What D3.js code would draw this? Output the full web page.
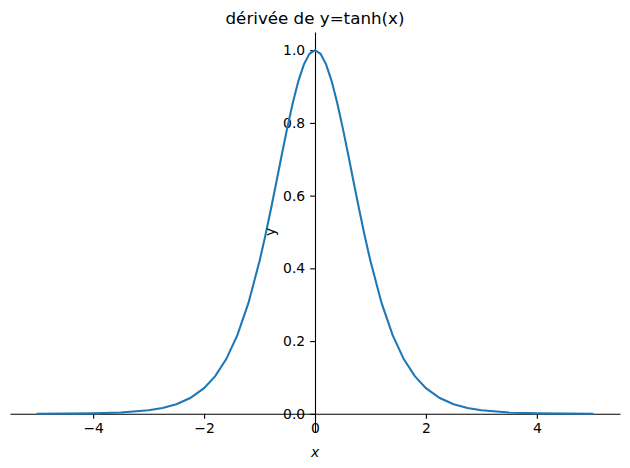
<!DOCTYPE html>
<html>
<head>
<meta charset="utf-8">
<script src="https://cdn.jsdelivr.net/npm/d3@7"></script>
<style>
  body { margin: 0; background: #fff; }
  svg { font-family: "DejaVu Sans", sans-serif; }
  .axis text { font-size: 13.9px; fill: #000; }
  .axis path, .axis line { stroke: #000; stroke-width: 1.1; }
</style>
</head>
<body>
<svg id="chart" width="630" height="468"></svg>
<script>
// points of the curve
var xs = [-5, -4.5, -4, -3.5, -3, -2.75, -2.5, -2.25, -2, -1.8, -1.6, -1.4, -1.2, -1, -0.9, -0.8, -0.7, -0.6, -0.5, -0.4, -0.3, -0.2, -0.1,
          0, 0.1, 0.2, 0.3, 0.4, 0.5, 0.6, 0.7, 0.8, 0.9, 1, 1.2, 1.4, 1.6, 1.8, 2, 2.25, 2.5, 2.75, 3, 3.5, 4, 4.5, 5];
var ys = [0.0002, 0.0005, 0.0013, 0.0036, 0.0099, 0.0162, 0.0266, 0.0435, 0.0707, 0.1036, 0.1505, 0.2162, 0.3050, 0.4200, 0.4869, 0.5591, 0.6347, 0.7116, 0.7864, 0.8556, 0.9151, 0.9610, 0.9901,
          1.0, 0.9901, 0.9610, 0.9151, 0.8556, 0.7864, 0.7116, 0.6347, 0.5591, 0.4869, 0.4200, 0.3050, 0.2162, 0.1505, 0.1036, 0.0707, 0.0435, 0.0266, 0.0162, 0.0099, 0.0036, 0.0013, 0.0005, 0.0002];
var xTicks = [-4, -2, 0, 2, 4];
var yTicks = [0, 0.2, 0.4, 0.6, 0.8, 1.0];

var data = xs.map(function(d, i) { return {x: d, y: ys[i]}; });

var svg = d3.select("#chart"),
    margin = {top: 32, right: 10, bottom: 36, left: 10},
    width = +svg.attr("width") - margin.left - margin.right,
    height = +svg.attr("height") - margin.top - margin.bottom;

var x = d3.scaleLinear().domain([-5.5, 5.5]).range([0, width]),
    y = d3.scaleLinear().domain([-0.05, 1.05]).range([height, 0]);

var g = svg.append("g")
    .attr("transform", "translate(" + margin.left + "," + margin.top + ")");

// axes cross at zero like the sympy plot
g.append("g")
    .attr("class", "axis axis--x")
    .attr("transform", "translate(0," + y(0) + ")")
    .call(d3.axisBottom(x).tickValues(xTicks).tickFormat(d3.format("d"))
      .tickSize(4.9).tickSizeOuter(0).tickPadding(4.9));

g.append("g")
    .attr("class", "axis axis--y")
    .attr("transform", "translate(" + x(0) + ",0)")
    .call(d3.axisLeft(y).tickValues(yTicks).tickFormat(d3.format(".1f"))
      .tickSize(4.9).tickSizeOuter(0).tickPadding(4.9));

// drop d3's default font attributes so the css font is used
g.selectAll(".axis").attr("font-family", null).attr("font-size", null);

var line = d3.line()
    .x(function(d) { return x(d.x); })
    .y(function(d) { return y(d.y); });

g.append("path")
    .datum(data)
    .attr("fill", "none")
    .attr("stroke", "#1f77b4")
    .attr("stroke-width", 2.08)
    .attr("stroke-linecap", "square")
    .attr("d", line);

// title and labels
svg.append("text")
    .attr("x", margin.left + width / 2)
    .attr("y", 24)
    .attr("text-anchor", "middle")
    .style("font-size", "16.7px")
    .text("dérivée de y=tanh(x)");

svg.append("text")
    .attr("x", margin.left + x(0))
    .attr("y", 457)
    .attr("text-anchor", "middle")
    .style("font-size", "13.9px")
    .style("font-style", "italic")
    .text("x");

svg.append("text")
    .attr("transform", "translate(" + 275 + "," + (margin.top + height / 2) + ") rotate(-90)")
    .attr("text-anchor", "middle")
    .style("font-size", "13.9px")
    .text("y");
</script>
</body>
</html>
